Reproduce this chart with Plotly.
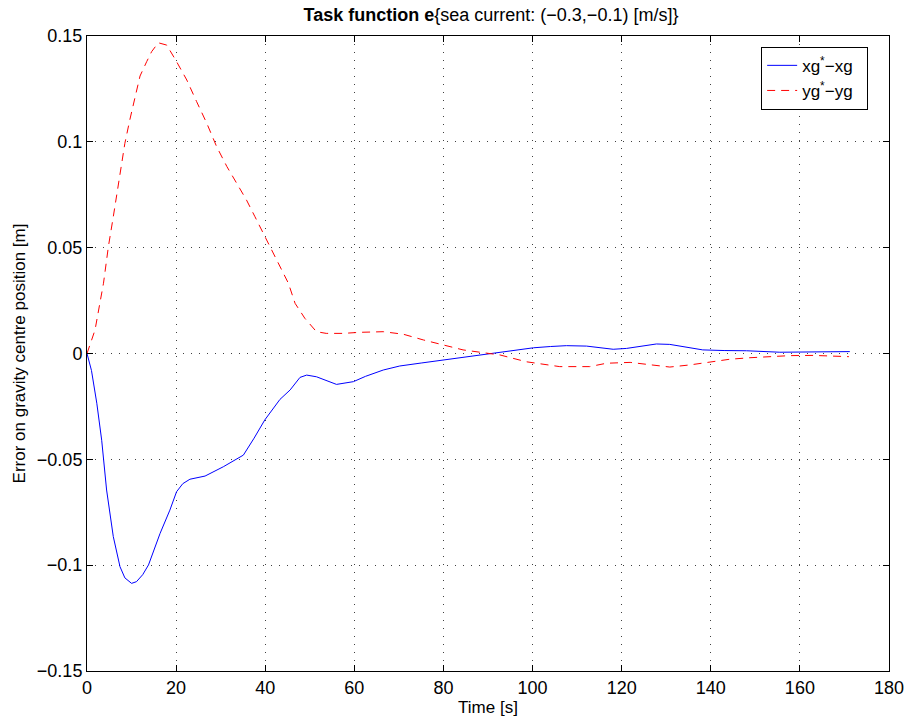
import plotly.graph_objects as go

# Blue series: xg* - xg
t_x = [0, 1.0, 2.2, 3.3, 4.4, 5.9, 7.4, 8.5, 10.0, 11.1, 12.5, 13.8, 16.4, 18.6, 20.1, 21.5, 23.1,
       26.5, 30.6, 35.1, 37.5, 39.9, 43.3, 45.6, 47.8, 49.3, 51.5, 53.8, 56.0, 59.8, 62.5, 66.5,
       70.2, 75.0, 80.0, 84.0, 88.2, 92.7, 96.5, 100.2, 104.0, 107.6, 112.1, 115.1, 118.1,
       121.1, 124.5, 127.8, 130.8, 134.5, 138.2, 143.0, 148.0, 155.5, 163.0, 171.2]
e_x = [0, -0.008, -0.0235, -0.041, -0.0645, -0.0865, -0.1007, -0.106, -0.1086, -0.1078, -0.1045,
       -0.0999, -0.085, -0.074, -0.0653, -0.0615, -0.0594, -0.0579, -0.0535, -0.048, -0.040,
       -0.0314, -0.0217, -0.0172, -0.0113, -0.0102, -0.011, -0.013, -0.0146, -0.0133, -0.0108,
       -0.0078, -0.0059, -0.0045, -0.0031, -0.0018, -0.0007, 0.0004, 0.0018, 0.0027, 0.0033,
       0.0037, 0.0035, 0.0027, 0.002, 0.0024, 0.0036, 0.0045, 0.0043, 0.003, 0.0017, 0.0014,
       0.0013, 0.0006, 0.0009, 0.0009]

# Red series: yg* - yg
t_y = [0, 1.8, 3.7, 4.8, 5.9, 7.4, 8.5, 9.6, 10.8, 11.9, 13.4, 14.5, 16.0, 17.9, 20.1, 22.4,
       24.6, 26.9, 29.1, 31.4, 33.6, 35.8, 37.7, 39.6, 41.8, 43.3, 45.2, 46.7, 48.9, 51.5,
       53.7, 57.5, 61.2, 66.5, 71.0, 75.5, 80.0, 84.4, 88.9, 92.7, 98.6, 106.1, 112.8, 116.6,
       121.9, 126.3, 130.8, 135.3, 139.8, 144.3, 148.8, 153.3, 157.8, 163.0, 168.2, 171.0]
e_y = [0, 0.0111, 0.0332, 0.0505, 0.0646, 0.0851, 0.0993, 0.1103, 0.1206, 0.1311, 0.1379,
       0.1426, 0.1468, 0.1457, 0.1379, 0.1292, 0.119, 0.1087, 0.0977, 0.0883, 0.0804, 0.0725,
       0.0646, 0.0568, 0.0473, 0.041, 0.0332, 0.0237, 0.0166, 0.0103, 0.0095, 0.0095, 0.01,
       0.0103, 0.0091, 0.0064, 0.004, 0.0017, 0.0004, -0.0007, -0.0039, -0.0062, -0.0062,
       -0.0046, -0.0042, -0.0054, -0.0064, -0.0054, -0.0039, -0.0027, -0.002, -0.0015, -0.001,
       -0.0009, -0.0012, -0.0015]

x_ticks = [0, 20, 40, 60, 80, 100, 120, 140, 160, 180]
y_ticks = [-0.15, -0.1, -0.05, 0, 0.05, 0.1, 0.15]
y_tick_labels = ["\u22120.15", "\u22120.1", "\u22120.05", "0", "0.05", "0.1", "0.15"]

font_family = "Liberation Sans, Arial, sans-serif"
FS = 17
TICK_FS = 18
TITLE_FS = 18

W, H = 914, 725

fig = go.Figure()
fig.add_trace(go.Scatter(x=t_x, y=e_x, mode="lines", name="xg<sup>*</sup>\u2212xg\u00a0\u00a0",
                         line=dict(color="#0000ff", width=1)))
fig.add_trace(go.Scatter(x=t_y, y=e_y, mode="lines", name="yg<sup>*</sup>\u2212yg\u00a0\u00a0",
                         line=dict(color="#ff0000", width=1, dash="8px,6px")))

axis_common = dict(
    showline=True, linecolor="black", linewidth=1, mirror="ticks",
    ticks="inside", ticklen=6, tickcolor="black", automargin=False,
    showgrid=True, gridcolor="rgba(0,0,0,0.75)", gridwidth=1, griddash="1px,7px",
    zeroline=False, tickfont=dict(size=TICK_FS, color="black", family=font_family),
)

fig.update_layout(
    width=W, height=H,
    paper_bgcolor="white", plot_bgcolor="white",
    margin=dict(l=87, r=25, t=36, b=54, autoexpand=False),
    font=dict(family=font_family, color="black", size=FS),
    title=dict(text="<b>Task function e</b>{sea current: (\u22120.3,\u22120.1) [m/s]}",
               x=491 / W, xanchor="center", y=1 - 15 / H, yanchor="middle",
               font=dict(size=TITLE_FS, family=font_family, color="black")),
    xaxis=dict(range=[0, 180], tickvals=x_ticks, title=dict(text="Time [s]", standoff=2,
               font=dict(size=FS)), **axis_common),
    yaxis=dict(range=[-0.15, 0.15], tickvals=y_ticks, ticktext=y_tick_labels,
               title=dict(text="Error on gravity centre position [m]", standoff=6,
                          font=dict(size=FS)), **axis_common),
    legend=dict(x=0.974, y=0.983, xanchor="right", yanchor="top",
                bgcolor="white", bordercolor="black", borderwidth=1,
                font=dict(size=FS, family=font_family), tracegroupgap=0),
    showlegend=True,
)

# Remove the default 8px body margin so the figure fills the window exactly.
fig.write_html("out.html", config={"displayModeBar": False},
               post_script="document.body.style.margin='0';document.body.style.padding='0';")
